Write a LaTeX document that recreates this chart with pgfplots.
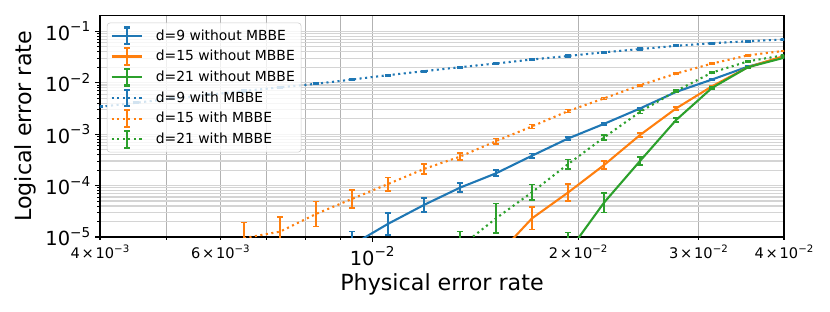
\documentclass[border=0pt]{standalone}
\usepackage{fontspec}
\setmainfont{DejaVu Sans}
\usepackage{graphicx}
\usepackage{pgfplots}
\pgfplotsset{compat=1.18}
\usepackage{pgfplotstable}
\definecolor{tabblue}{HTML}{1F77B4}
\definecolor{taborange}{HTML}{FF7F0E}
\definecolor{tabgreen}{HTML}{2CA02C}
\newcommand{\ex}[1]{10\raisebox{0.42em}{\scalebox{0.7}{−#1}}}
\newcommand{\mex}[2]{#1\hspace{0.12em}×\hspace{0.12em}10\raisebox{0.42em}{\scalebox{0.7}{−#2}}}

% d=9 without MBBE
\pgfplotstableread{
x y ep em
0.0093429 7.0e-6 5.7e-6 3.2e-6
0.010547 1.8e-5 1.12e-5 6.9e-6
0.011905 4.2e-5 1.6e-5 1.16e-5
0.013439 9.1e-5 2.1e-5 1.7e-5
0.015171 1.73e-4 2.47e-5 2.16e-5
0.017125 3.8e-4 4.15e-5 3.74e-5
0.019332 8.2e-4 5.9e-5 5.5e-5
0.021822 1.58e-3 7.4e-5 7.1e-5
0.024634 3.15e-3 1.1e-4 1.07e-4
0.027808 6.6e-3 1.5e-4 1.5e-4
0.031390 1.15e-2 2.7e-4 2.6e-4
0.035435 2.05e-2 4.8e-4 4.7e-4
0.04 3.15e-2 7.3e-4 7.2e-4
}\tabA
% d=15 without MBBE
\pgfplotstableread{
x y ep em
0.015171 4.1e-6 4.1e-6 2.0e-6
0.017125 2.3e-5 1.52e-5 9.1e-6
0.019332 7.3e-5 3.38e-5 2.31e-5
0.021822 2.5e-4 5.1e-5 4.2e-5
0.024634 9.6e-4 1.05e-4 9.4e-5
0.027808 3.15e-3 1.87e-4 1.76e-4
0.031390 8.5e-3 3.0e-4 2.9e-4
0.035435 2.0e-2 4.7e-4 4.6e-4
0.04 3.3e-2 7.7e-4 7.5e-4
}\tabB
% d=21 without MBBE
\pgfplotstableread{
x y ep em
0.019332 5.0e-6 7.3e-6 3.0e-6
0.021822 4.65e-5 2.55e-5 1.65e-5
0.024634 3.0e-4 6.1e-5 5.0e-5
0.027808 1.87e-3 1.57e-4 1.45e-4
0.031390 7.9e-3 3.7e-4 3.6e-4
0.035435 2.0e-2 4.7e-4 4.6e-4
0.04 3.05e-2 7.1e-4 7.0e-4
}\tabC
% d=9 with MBBE
\pgfplotstableread{
x y ep em
0.004 3.39e-3 1.2e-4 1.15e-4
0.0045154 4.07e-3 1.4e-4 1.4e-4
0.0050971 4.9e-3 1.7e-4 1.7e-4
0.0057538 5.8e-3 2.0e-4 2.0e-4
0.0064951 6.9e-3 2.4e-4 2.3e-4
0.0073319 8.1e-3 2.8e-4 2.7e-4
0.0082766 9.5e-3 3.3e-4 3.2e-4
0.0093429 1.15e-2 4.0e-4 3.9e-4
0.010547 1.40e-2 4.9e-4 4.7e-4
0.011905 1.67e-2 5.8e-4 5.6e-4
0.013439 2.0e-2 7.0e-4 6.8e-4
0.015171 2.36e-2 8.2e-4 8.0e-4
0.017125 2.82e-2 9.8e-4 9.5e-4
0.019332 3.3e-2 1.15e-3 1.1e-3
0.021822 3.9e-2 1.35e-3 1.3e-3
0.024634 4.5e-2 1.6e-3 1.5e-3
0.027808 5.2e-2 1.8e-3 1.75e-3
0.031390 5.85e-2 2.0e-3 2.0e-3
0.035435 6.4e-2 2.2e-3 2.2e-3
0.04 6.9e-2 2.4e-3 2.3e-3
}\tabD
% d=15 with MBBE
\pgfplotstableread{
x y ep em
0.0064951 9.5e-6 9.5e-6 4.6e-6
0.0073319 1.27e-5 1.15e-5 6.0e-6
0.0082766 2.8e-5 2.12e-5 1.21e-5
0.0093429 5.5e-5 2.82e-5 1.87e-5
0.010547 1.07e-4 3.73e-5 2.77e-5
0.011905 2.1e-4 5.25e-5 4.2e-5
0.013439 3.65e-4 6.4e-5 5.4e-5
0.015171 7.3e-4 8.7e-5 7.8e-5
0.017125 1.41e-3 1.36e-4 1.24e-4
0.019332 2.8e-3 2.0e-4 1.87e-4
0.021822 4.95e-3 2.33e-4 2.23e-4
0.024634 8.9e-3 3.1e-4 3.0e-4
0.027808 1.5e-2 3.5e-4 3.4e-4
0.031390 2.35e-2 5.5e-4 5.4e-4
0.035435 3.4e-2 7.9e-4 7.8e-4
0.04 4.15e-2 9.7e-4 9.5e-4
}\tabE
% d=21 with MBBE
\pgfplotstableread{
x y ep em
0.013439 6.4e-6 6.4e-6 3.2e-6
0.015171 2.3e-5 2.18e-5 1.12e-5
0.017125 7.4e-5 3.05e-5 2.16e-5
0.019332 2.6e-4 6.3e-5 5.1e-5
0.021822 8.6e-4 1.03e-4 9.2e-5
0.024634 2.7e-3 1.93e-4 1.8e-4
0.027808 6.9e-3 3.25e-4 3.1e-4
0.031390 1.57e-2 5.5e-4 5.3e-4
0.035435 2.6e-2 6.1e-4 5.9e-4
0.04 3.42e-2 8.0e-4 7.8e-4
}\tabF

\begin{document}
\begin{tikzpicture}
\begin{axis}[
  scale only axis, width=492.5pt, height=159.3pt,
  xmode=log, ymode=log,
  xmin=0.004, xmax=0.04, ymin=1e-5, ymax=0.2,
  xtick={0.01}, xticklabels={\ex{2}},
  minor xtick={0.004,0.005,0.006,0.007,0.008,0.009,0.02,0.03,0.04},
  extra x ticks={0.004,0.006,0.02,0.03,0.04},
  extra x tick labels={\mex{4}{3},\mex{6}{3},\mex{2}{2},\mex{3}{2},\mex{4}{2}},
  extra x tick style={grid=none, major tick length=2pt, tick label style={font=\fontsize{10.5}{12}\selectfont}},
  ytick={1e-5,1e-4,1e-3,1e-2,1e-1},
  yticklabels={\ex{5},\ex{4},\ex{3},\ex{2},\ex{1}},
  minor ytick={2e-5,3e-5,4e-5,5e-5,6e-5,7e-5,8e-5,9e-5,2e-4,3e-4,4e-4,5e-4,6e-4,7e-4,8e-4,9e-4,2e-3,3e-3,4e-3,5e-3,6e-3,7e-3,8e-3,9e-3,2e-2,3e-2,4e-2,5e-2,6e-2,7e-2,8e-2,9e-2},
  tick label style={font=\fontsize{14}{16}\selectfont},
  grid=both,
  major x grid style={black!30, line width=0.6pt},
  minor x grid style={black!30, line width=0.6pt},
  major y grid style={black!17, line width=0.8pt},
  minor y grid style={black!17, line width=0.8pt},
  tick align=outside, tick pos=left,
  major tick length=3.5pt, minor tick length=2pt,
  tick style={black, line width=0.8pt},
  minor tick style={line width=0.6pt},
  axis line style={line width=0.8pt},
  xlabel={Physical error rate},
  ylabel={Logical error rate},
  label style={font=\fontsize{16}{19}\selectfont},
  x label style={at={(axis description cs:0.5,0)}, anchor=center, yshift=-33.8pt},
  y label style={at={(axis description cs:0,0.5)}, anchor=center, yshift=53.5pt},
  error bars/y dir=both,
  error bars/y explicit,
  error bars/error bar style={solid, line width=1.2pt},
  error bars/error mark options={solid, rotate=90, line width=1.2pt, mark size=2.2pt},
  legend cell align=left,
  legend style={at={(0,1)}, anchor=north west, xshift=5pt, yshift=-5pt,
    draw=black!20, fill=white, fill opacity=0.8, text opacity=1,
    rounded corners=2pt, font=\fontsize{10}{12}\selectfont, row sep=1.4pt,
    inner sep=2.5pt},
  legend image code/.code={
    \draw[#1, line cap=butt] (0pt,0pt) -- (22pt,0pt);
    \draw[#1, solid] (11pt,-6pt) -- (11pt,6pt);
    \draw[#1, solid] (9pt,-6pt) -- (13pt,-6pt);
    \draw[#1, solid] (9pt,6pt) -- (13pt,6pt);
    \path (29pt,0pt);
  },
]
\addplot[tabblue, line width=1.5pt, mark=none] table[x=x, y=y, y error plus=ep, y error minus=em]{\tabA};
\addlegendentry{d=9 without MBBE}
\addplot[taborange, line width=1.5pt, mark=none] table[x=x, y=y, y error plus=ep, y error minus=em]{\tabB};
\addlegendentry{d=15 without MBBE}
\addplot[tabgreen, line width=1.5pt, mark=none] table[x=x, y=y, y error plus=ep, y error minus=em]{\tabC};
\addlegendentry{d=21 without MBBE}
\addplot[tabblue, line width=1.5pt, mark=none, dash pattern=on 1.5pt off 2.5pt] table[x=x, y=y, y error plus=ep, y error minus=em]{\tabD};
\addlegendentry{d=9 with MBBE}
\addplot[taborange, line width=1.5pt, mark=none, dash pattern=on 1.5pt off 2.5pt] table[x=x, y=y, y error plus=ep, y error minus=em]{\tabE};
\addlegendentry{d=15 with MBBE}
\addplot[tabgreen, line width=1.5pt, mark=none, dash pattern=on 1.5pt off 2.5pt] table[x=x, y=y, y error plus=ep, y error minus=em]{\tabF};
\addlegendentry{d=21 with MBBE}
\end{axis}
\pgfresetboundingbox
\path (current axis.south west) ++(-72pt,-54pt) rectangle ++(597.6pt,224.64pt);
\end{tikzpicture}
\end{document}
